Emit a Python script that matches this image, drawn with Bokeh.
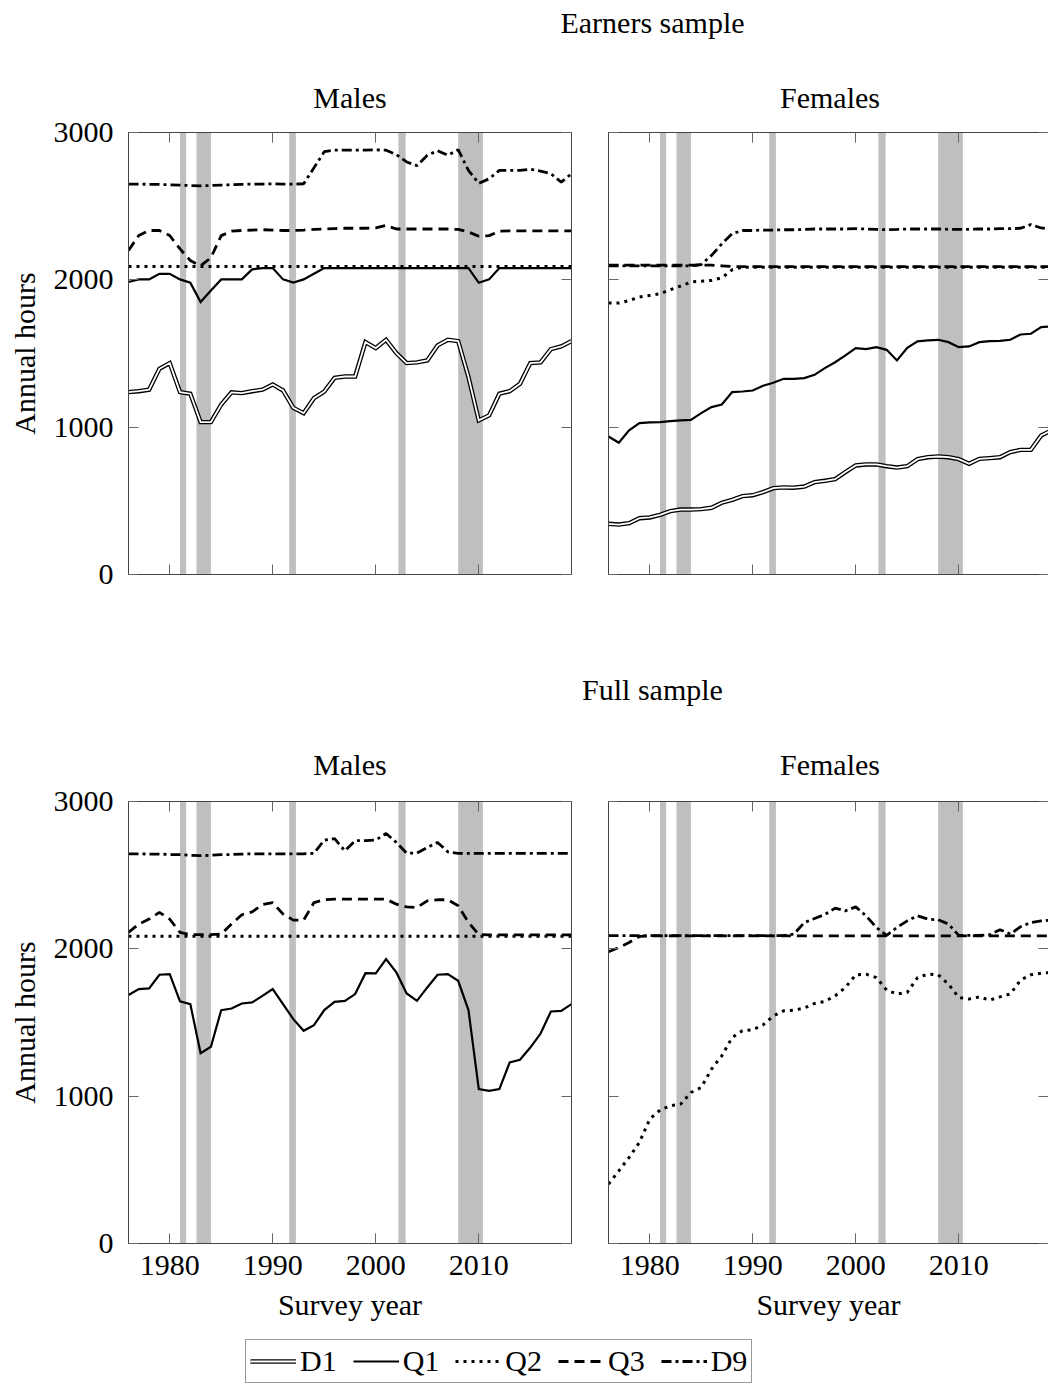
from bokeh.plotting import figure
from bokeh.models import (Range1d, FixedTicker, LinearAxis, BoxAnnotation, Legend,
                          LegendItem, Label, ColumnDataSource, CustomLabelingPolicy)
from bokeh.layouts import column, row
from bokeh.embed import file_html
from bokeh.resources import INLINE

# ---------------- data ----------------
YEARS = list(range(1976, 2020))

# Earners sample, males
EM_D1 = [1238, 1244, 1254, 1396, 1435, 1238, 1227, 1034, 1034, 1154,
         1236, 1231, 1244, 1254, 1290, 1249, 1131, 1095, 1197, 1242,
         1335, 1344, 1344, 1577, 1537, 1593, 1503, 1435, 1440, 1453,
         1555, 1593, 1584, 1340, 1046, 1080, 1227, 1244, 1294, 1435,
         1440, 1530, 1548, 1584]
EM_Q1 = [1985, 2003, 2003, 2041, 2041, 2003, 1981, 1849, 1928, 2003,
         2003, 2003, 2071, 2080, 2080, 2003, 1981, 2003, 2041, 2080,
         2080, 2080, 2080, 2080, 2080, 2080, 2080, 2080, 2080, 2080,
         2080, 2080, 2080, 2080, 1980, 2003, 2080, 2080, 2080, 2080,
         2080, 2080, 2080, 2080]
EM_Q2 = [2090] * 44
EM_Q3 = [2200, 2301, 2335, 2335, 2301, 2210, 2131, 2095, 2150, 2300,
         2330, 2335, 2338, 2340, 2338, 2335, 2335, 2338, 2342, 2345,
         2348, 2350, 2350, 2350, 2352, 2369, 2345, 2345, 2345, 2345,
         2345, 2345, 2342, 2325, 2296, 2300, 2330, 2332, 2332, 2332,
         2332, 2332, 2332, 2332]
EM_D9 = [2650, 2650, 2648, 2648, 2645, 2643, 2640, 2638, 2640, 2643,
         2645, 2648, 2650, 2650, 2652, 2650, 2650, 2652, 2760, 2870,
         2880, 2880, 2880, 2880, 2882, 2880, 2850, 2800, 2775, 2845,
         2876, 2845, 2883, 2743, 2655, 2686, 2743, 2743, 2743, 2750,
         2738, 2720, 2663, 2720]

# Earners sample, females
EF_D1 = [344, 339, 348, 382, 387, 405, 430, 441, 441, 444,
         453, 487, 507, 532, 538, 559, 586, 591, 589, 597,
         627, 636, 647, 695, 740, 747, 747, 735, 726, 735,
         783, 796, 801, 796, 783, 751, 785, 790, 796, 831,
         846, 846, 944, 978]
EF_Q1 = [937, 894, 978, 1027, 1032, 1034, 1041, 1046, 1050, 1095,
         1136, 1154, 1238, 1242, 1249, 1281, 1301, 1328, 1328, 1333,
         1355, 1401, 1441, 1487, 1537, 1530, 1543, 1525, 1453, 1539,
         1582, 1589, 1593, 1577, 1543, 1548, 1577, 1584, 1586, 1593,
         1629, 1634, 1679, 1684]
EF_Q2 = [1842, 1842, 1860, 1883, 1894, 1905, 1933, 1958, 1985, 1991,
         1996, 2014, 2068, 2086, 2085, 2085, 2085, 2085, 2085, 2085,
         2085, 2085, 2085, 2085, 2085, 2085, 2085, 2085, 2085, 2085,
         2085, 2085, 2085, 2085, 2085, 2085, 2085, 2085, 2085, 2085,
         2085, 2085, 2085, 2085]
EF_Q3 = [2100, 2100, 2100, 2100, 2100, 2100, 2100, 2100, 2100, 2100,
         2100, 2095, 2090, 2090, 2090, 2090, 2090, 2090, 2090, 2090,
         2090, 2090, 2090, 2090, 2090, 2090, 2090, 2090, 2090, 2090,
         2090, 2090, 2090, 2090, 2090, 2090, 2090, 2090, 2090, 2090,
         2090, 2090, 2090, 2090]
EF_D9 = [2095, 2095, 2095, 2095, 2095, 2095, 2095, 2095, 2095, 2104,
         2166, 2244, 2313, 2335, 2335, 2338, 2338, 2340, 2340, 2342,
         2345, 2345, 2345, 2345, 2348, 2345, 2342, 2340, 2342, 2345,
         2345, 2345, 2345, 2343, 2343, 2343, 2345, 2345, 2347, 2347,
         2350, 2375, 2352, 2345]

# Full sample, males
FM_Q1 = [1686, 1727, 1731, 1824, 1828, 1643, 1625, 1292, 1335, 1584,
         1595, 1629, 1636, 1681, 1727, 1625, 1523, 1444, 1482, 1584,
         1640, 1647, 1693, 1835, 1833, 1930, 1840, 1697, 1647, 1738,
         1824, 1828, 1783, 1584, 1048, 1036, 1048, 1229, 1247, 1330,
         1425, 1575, 1579, 1625]
FM_Q2 = [2085] * 44
FM_Q3 = [2111, 2168, 2202, 2247, 2202, 2111, 2097, 2097, 2097, 2100,
         2168, 2231, 2251, 2300, 2314, 2236, 2195, 2195, 2314, 2333,
         2337, 2337, 2337, 2337, 2337, 2337, 2303, 2285, 2280, 2326,
         2333, 2333, 2292, 2179, 2097, 2095, 2095, 2095, 2095, 2095,
         2095, 2095, 2095, 2095]
FM_D9 = [2645, 2645, 2643, 2643, 2640, 2640, 2635, 2632, 2635, 2640,
         2640, 2643, 2645, 2645, 2645, 2645, 2645, 2645, 2648, 2738,
         2748, 2665, 2734, 2734, 2738, 2783, 2722, 2650, 2650, 2688,
         2722, 2658, 2648, 2648, 2648, 2648, 2648, 2648, 2648, 2648,
         2648, 2648, 2648, 2648]

# Full sample, females
FF_Q2 = [403, 493, 584, 686, 844, 905, 935, 946, 1025, 1059,
         1184, 1274, 1398, 1444, 1451, 1484, 1545, 1579, 1584, 1598,
         1629, 1643, 1681, 1738, 1824, 1828, 1805, 1720, 1693, 1704,
         1805, 1828, 1824, 1760, 1670, 1659, 1674, 1652, 1674, 1693,
         1788, 1824, 1835, 1840]
FF_Q3 = [1980, 2009, 2043, 2084] + [2088] * 40
FF_D9 = [2090] * 18 + [2100, 2178, 2206, 2233, 2276, 2258, 2285, 2224, 2145, 2091,
                       2145, 2190, 2224, 2202, 2197, 2168, 2091, 2091, 2091, 2095,
                       2130, 2100, 2150, 2178, 2190, 2195]

# recession bands (survey-year units)
REC_START = [1981.0, 1982.6, 1991.6, 2002.2, 2008.0]
REC_END = [1981.6, 1984.0, 1992.25, 2002.9, 2010.4]

X_TICKS = [1980, 1990, 2000, 2010]
Y_TICKS = [0, 1000, 2000, 3000]
SERIES = ["D1", "Q1", "Q2", "Q3", "D9"]

# ---------------- style ----------------
FONT = "Liberation Serif"
FS = "30px"
FRAME_H = 442
STY = {
    "Q1": dict(line_width=2.2, line_join="miter"),
    "Q2": dict(line_width=3.0, line_dash="3 5"),
    "Q3": dict(line_width=2.8, line_dash="10 6"),
    "D9": dict(line_width=2.8, line_dash="10 4 3 4"),
}

NO_LABELS = CustomLabelingPolicy(code="""
try {
  for (const i of Array.from(indices.ones())) indices.unset(i)
} catch (e) {
  try { for (const i of Array.from(indices)) indices.set(i, false) } catch (e2) {}
}
return indices
""")


def draw_series(p, key, xs, ys):
    src = ColumnDataSource(dict(x=xs, y=ys))
    if key == "D1":
        r1 = p.line("x", "y", source=src, line_color="black", line_width=4.4, line_join="miter")
        r2 = p.line("x", "y", source=src, line_color="white", line_width=1.8, line_join="miter")
        return [r1, r2]
    return [p.line("x", "y", source=src, line_color="black", **STY[key])]


def mk_axis(ticks, show_labels, line=True, axis_label=None, standoff=10, label_standoff=10):
    ax = LinearAxis(ticker=FixedTicker(ticks=ticks))
    ax.major_tick_in = 10
    ax.major_tick_out = 0
    ax.major_tick_line_color = "#666666"
    ax.major_tick_line_width = 1
    ax.minor_tick_line_color = None
    ax.axis_line_color = "#444444" if line else None
    ax.axis_line_width = 1
    if show_labels:
        ax.major_label_text_font = FONT
        ax.major_label_text_font_size = FS
        ax.major_label_text_color = "black"
        ax.major_label_standoff = standoff
    else:
        ax.major_label_text_font_size = "0px"
        ax.major_label_standoff = 0
        ax.major_label_policy = NO_LABELS
    if axis_label:
        ax.axis_label = axis_label
        ax.axis_label_text_font = FONT
        ax.axis_label_text_font_size = FS
        ax.axis_label_text_font_style = "normal"
        ax.axis_label_text_color = "black"
        ax.axis_label_standoff = label_standoff
    return ax


def panel(data, is_left, is_bottom, mb_top, mb_bottom):
    if is_left:
        mb_l, fw, mb_r, xmax = 128, 443, 18, 2019.0
    else:
        mb_l, fw, mb_r, xmax = 19, 440, 0, 1976 + 440 / 10.302
    p = figure(width=mb_l + fw + mb_r, height=mb_top + FRAME_H + mb_bottom,
               x_range=Range1d(1976, xmax), y_range=Range1d(0, 3000),
               x_axis_location=None, y_axis_location=None,
               min_border_left=mb_l, min_border_right=mb_r,
               min_border_top=mb_top, min_border_bottom=mb_bottom,
               output_backend="svg", toolbar_location=None)
    p.grid.grid_line_color = None
    p.outline_line_color = None
    p.background_fill_color = "white"
    p.border_fill_color = "white"
    for s, e in zip(REC_START, REC_END):
        p.add_layout(BoxAnnotation(left=s, right=e, fill_color="#bfbfbf", fill_alpha=1.0,
                                   line_color=None, level="underlay"))
    for key in SERIES:
        if key in data:
            draw_series(p, key, YEARS, data[key])
    p.add_layout(mk_axis(Y_TICKS, is_left, axis_label="Annual hours" if is_left else None,
                         standoff=15, label_standoff=10), "left")
    p.add_layout(mk_axis(Y_TICKS, False, line=is_left), "right")
    p.add_layout(mk_axis(X_TICKS, False), "above")
    p.add_layout(mk_axis(X_TICKS, is_bottom, axis_label="Survey year" if is_bottom else None,
                         standoff=12, label_standoff=10), "below")
    return p


def header(height, items):
    p = figure(width=1048, height=height, x_range=Range1d(0, 1048), y_range=Range1d(0, height),
               x_axis_location=None, y_axis_location=None, min_border=0,
               output_backend="svg", toolbar_location=None)
    p.grid.grid_line_color = None
    p.outline_line_color = None
    for x, y, t in items:
        p.add_layout(Label(x=x, y=y, text=t, text_font=FONT, text_font_size=FS,
                           text_align="center", text_baseline="middle", text_color="black"))
    return p


h1 = header(114, [(652, 92, "Earners sample"), (349.5, 17, "Males"), (829.5, 17, "Females")])
tl = panel({"D1": EM_D1, "Q1": EM_Q1, "Q2": EM_Q2, "Q3": EM_Q3, "D9": EM_D9}, True, False, 18, 16)
tr = panel({"D1": EF_D1, "Q1": EF_Q1, "Q2": EF_Q2, "Q3": EF_Q3, "D9": EF_D9}, False, False, 18, 16)
h2 = header(193, [(652, 94, "Full sample"), (349.5, 19, "Males"), (829.5, 19, "Females")])
bl = panel({"Q1": FM_Q1, "Q2": FM_Q2, "Q3": FM_Q3, "D9": FM_D9}, True, True, 18, 87)
br = panel({"Q2": FF_Q2, "Q3": FF_Q3, "D9": FF_D9}, False, True, 18, 87)

# legend strip (sample renderers lie outside the visible range; only their legend glyphs show)
lg = figure(width=1048, height=56, x_range=Range1d(0, 1), y_range=Range1d(0, 1),
            x_axis_location=None, y_axis_location=None, min_border=0,
            output_backend="svg", toolbar_location=None)
lg.grid.grid_line_color = None
lg.outline_line_color = None
items = []
for key in SERIES:
    rs = draw_series(lg, key, [5, 6], [5, 6])
    items.append(LegendItem(label=key, renderers=rs))
legend = Legend(items=items, orientation="horizontal", location=(245, 3),
                label_text_font=FONT, label_text_font_size=FS, label_text_color="black",
                glyph_width=46, glyph_height=30, label_standoff=4, spacing=16, padding=4,
                border_line_color="#333333", border_line_width=1, margin=0,
                background_fill_color="white", background_fill_alpha=1.0)
lg.add_layout(legend)

layout = column(h1, row(tl, tr), h2, row(bl, br), lg)
open("out.html", "w").write(file_html(layout, INLINE))
